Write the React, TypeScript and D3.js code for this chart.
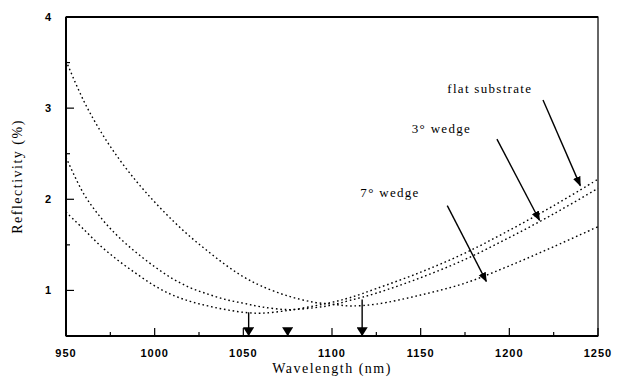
import React from "react";
import * as d3 from "d3";

// wavelength samples (nm)
const wavelengths = [950, 960, 970, 980, 990, 1000, 1010, 1020, 1030, 1040, 1050, 1060, 1075, 1090, 1100, 1110, 1125, 1150, 1175, 1200, 1225, 1250];
// reflectivity (%)
const flatSubstrate = [1.86, 1.67, 1.48, 1.32, 1.18, 1.05, 0.95, 0.88, 0.83, 0.79, 0.76, 0.75, 0.78, 0.83, 0.87, 0.92, 1.02, 1.2, 1.41, 1.66, 1.93, 2.22];
const wedge3 = [2.46, 2.06, 1.79, 1.58, 1.41, 1.26, 1.13, 1.03, 0.96, 0.9, 0.86, 0.82, 0.79, 0.81, 0.84, 0.89, 0.97, 1.14, 1.34, 1.58, 1.84, 2.12];
const wedge7 = [3.52, 3.08, 2.73, 2.44, 2.19, 1.97, 1.77, 1.59, 1.43, 1.28, 1.15, 1.05, 0.94, 0.87, 0.85, 0.83, 0.85, 0.95, 1.08, 1.27, 1.48, 1.7];

const xTicks = [950, 1000, 1050, 1100, 1150, 1200, 1250];
const xMinor = [975, 1025, 1075, 1125, 1175, 1225];
const yTicks = [1, 2, 3, 4];
const yMinor = [1.5, 2.5, 3.5];

// minima markers on the x axis: [wavelength, top of line in %]
const minima: [number, number][] = [[1053, 0.76], [1075, 0.55], [1117, 0.9]];

// labels with arrows: text, text x/y, arrow from, arrow to (data units)
const labels = [
  { text: "flat substrate", x: 1165, y: 3.17, from: [1219, 3.09], to: [1240, 2.15] },
  { text: "3° wedge", x: 1145, y: 2.73, from: [1193, 2.66], to: [1217, 1.77] },
  { text: "7° wedge", x: 1116, y: 2.03, from: [1165, 1.93], to: [1187, 1.1] },
];

const W = 618;
const H = 382;
const m = { left: 66, right: 20, top: 17, bottom: 46 };

export default function App() {
  const x = d3.scaleLinear().domain([950, 1250]).range([m.left, W - m.right]);
  const y = d3.scaleLinear().domain([0.5, 4]).range([H - m.bottom, m.top]);
  const line = d3
    .line<number>()
    .x((_, i) => x(wavelengths[i]))
    .y((d) => y(d))
    .curve(d3.curveCatmullRom);

  const series = [flatSubstrate, wedge3, wedge7];
  const tickFont = { fontFamily: "Liberation Sans, Arial, sans-serif", fontWeight: 700, fontSize: 11, letterSpacing: 1 };
  const serif = "Liberation Serif, Times New Roman, serif";

  return (
    <svg width={W} height={H} style={{ position: "absolute", left: 0, top: 0, background: "#fff" }}>
      <defs>
        <marker id="ah" viewBox="0 0 10 10" refX="9" refY="5" markerWidth="7" markerHeight="7" orient="auto">
          <path d="M0,1 L10,5 L0,9 z" fill="#000" />
        </marker>
        <marker id="tri" viewBox="0 0 10 10" refX="5" refY="9" markerWidth="8" markerHeight="8" orient="0">
          <path d="M0,2 L10,2 L5,10 z" fill="#000" />
        </marker>
      </defs>

      {/* curves */}
      {series.map((s, i) => (
        <path key={i} d={line(s) || ""} fill="none" stroke="#000" strokeWidth={1.4} strokeDasharray="1.6,2.8" />
      ))}

      {/* frame */}
      <rect x={m.left} y={m.top} width={W - m.left - m.right} height={H - m.top - m.bottom} fill="none" stroke="#000" strokeWidth={1.2} />
      <line x1={m.left} x2={W - m.right} y1={m.top} y2={m.top} stroke="#000" strokeWidth={2} />
      <line x1={m.left} x2={m.left} y1={m.top} y2={H - m.bottom} stroke="#000" strokeWidth={2} />
      <line x1={m.left} x2={W - m.right} y1={H - m.bottom} y2={H - m.bottom} stroke="#000" strokeWidth={2} />

      {/* x ticks */}
      {xTicks.map((t) => (
        <g key={t}>
          <line x1={x(t)} x2={x(t)} y1={y(0.5)} y2={y(0.5) - 8} stroke="#000" strokeWidth={1.2} />
          <text x={x(t)} y={357} textAnchor="middle" style={tickFont}>{t}</text>
        </g>
      ))}
      {xMinor.map((t) => (
        <line key={t} x1={x(t)} x2={x(t)} y1={y(0.5)} y2={y(0.5) - 4} stroke="#000" strokeWidth={1.2} />
      ))}

      {/* y ticks */}
      {yTicks.map((t) => (
        <g key={t}>
          <line x1={m.left} x2={m.left + 8} y1={y(t)} y2={y(t)} stroke="#000" strokeWidth={1.2} />
          <text x={52} y={y(t) + 4} textAnchor="end" style={tickFont}>{t}</text>
        </g>
      ))}
      {yMinor.map((t) => (
        <line key={t} x1={m.left} x2={m.left + 4} y1={y(t)} y2={y(t)} stroke="#000" strokeWidth={1.2} />
      ))}

      {/* minima markers */}
      {minima.map(([w, top]) => (
        <line key={w} x1={x(w)} x2={x(w)} y1={y(top)} y2={y(0.5) - 1} stroke="#000" strokeWidth={1.4} markerEnd="url(#tri)" />
      ))}

      {/* labels + arrows */}
      {labels.map((l) => (
        <g key={l.text}>
          <text x={x(l.x)} y={y(l.y)} fontFamily={serif} fontSize={13} letterSpacing={1.3}>{l.text}</text>
          <line x1={x(l.from[0])} y1={y(l.from[1])} x2={x(l.to[0])} y2={y(l.to[1])} stroke="#000" strokeWidth={1.4} markerEnd="url(#ah)" />
        </g>
      ))}

      {/* axis titles */}
      <text x={(m.left + W - m.right) / 2} y={373} textAnchor="middle" fontFamily={serif} fontSize={14} letterSpacing={1.5}>
        Wavelength (nm)
      </text>
      <text transform={`translate(22,${(m.top + H - m.bottom) / 2}) rotate(-90)`} textAnchor="middle" fontFamily={serif} fontSize={14} letterSpacing={1.5}>
        Reflectivity (%)
      </text>
    </svg>
  );
}
